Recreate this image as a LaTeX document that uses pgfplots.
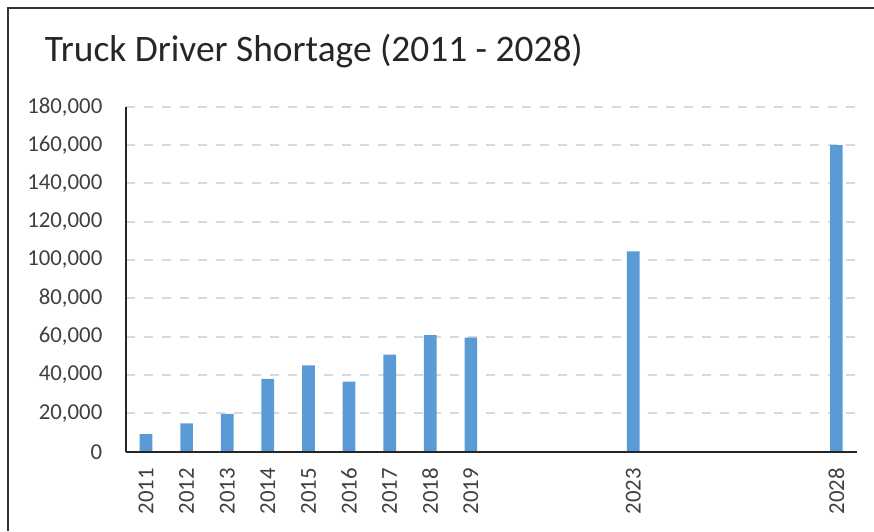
\documentclass[border=0pt]{standalone}
\usepackage{fontspec}
\setmainfont{Carlito}
\usepackage{pgfplots}
\pgfplotsset{compat=1.18}
\definecolor{barblue}{HTML}{5B9BD5}
\definecolor{gridgray}{HTML}{D9D9D9}
\definecolor{labelgray}{HTML}{404040}
\definecolor{titlegray}{HTML}{262626}
\begin{document}
\begin{tikzpicture}
\useasboundingbox (0,0) rectangle (437pt,265.5pt);
\draw[line width=1.2pt, black!80] (4pt,0) -- (4pt,261.6pt) -- (437pt,261.6pt);
\node[anchor=base west, inner sep=0pt, font=\fontsize{18.7}{22}\selectfont, text=titlegray] at (22.3pt,234.65pt) {Truck Driver Shortage (2011 - 2028)};
\begin{axis}[
  at={(62.85pt,39.65pt)}, anchor=south west,
  scale only axis, width=365.5pt, height=172.5pt,
  xmin=2010.5, xmax=2028.5, ymin=0, ymax=180000,
  axis x line=bottom, axis y line=left,
  axis line style={-, line width=1pt, black!85},
  xtick={2011,2012,2013,2014,2015,2016,2017,2018,2019,2023,2028},
  ytick={0,20000,40000,60000,80000,100000,120000,140000,160000,180000},
  major tick length=0pt,
  tick style={draw=none},
  ymajorgrids,
  grid style={gridgray, line width=1pt, dash pattern=on 4.5pt off 4.5pt},
  /pgf/number format/assume math mode=true,
  yticklabel style={/pgf/number format/fixed, /pgf/number format/1000 sep={,}, font=\fontsize{11.4}{13}\selectfont, text=labelgray, anchor=east, inner sep=0pt, xshift=-11.5pt},
  xticklabel style={/pgf/number format/1000 sep={}, font=\fontsize{11.4}{13}\selectfont, text=labelgray, rotate=90, anchor=east, inner sep=0pt, xshift=-8pt},
  scaled y ticks=false,
  ybar, bar width=6.35pt,
  clip=false,
]
\addplot[fill=barblue, draw=none] coordinates {
  (2011,9200) (2012,14800) (2013,19800) (2014,38000) (2015,45000)
  (2016,36500) (2017,50700) (2018,60800) (2019,59500)
  (2023,104500) (2028,160000)
};
\draw[line width=1pt, black!85] (rel axis cs:0,0) -- (rel axis cs:1,0);
\end{axis}
\end{tikzpicture}
\end{document}
